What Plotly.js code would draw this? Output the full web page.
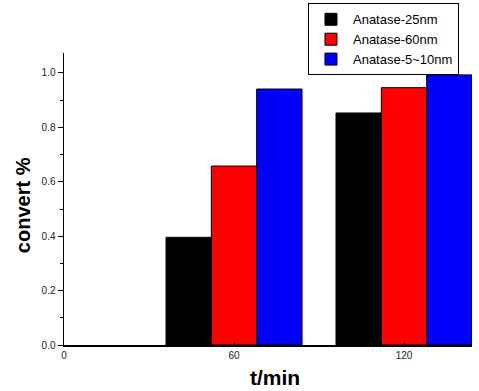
<!DOCTYPE html>
<html>
<head>
<meta charset="utf-8">
<script src="https://cdn.plot.ly/plotly-3.0.1.min.js"></script>
<style>html,body{margin:0;padding:0;background:#fff;}#chart{width:479px;height:391px;}</style>
</head>
<body>
<div id="chart"></div>
<script>
const times = [60, 120];
const seriesNames = ["Anatase-25nm", "Anatase-60nm", "Anatase-5~10nm"];
const anatase25 = [0.396, 0.853];
const anatase60 = [0.658, 0.946];
const anatase5to10 = [0.941, 0.993];
const colors = ["#000000", "#ff0000", "#0000ff"];
const xTicks = [0, 60, 120];
const yTicks = [0, 0.2, 0.4, 0.6, 0.8, 1.0];
const xTitle = "t/min";
const yTitle = "convert %";

const values = [anatase25, anatase60, anatase5to10];
const traces = values.map((v, i) => ({
  type: "bar",
  x: times,
  y: v,
  name: seriesNames[i],
  marker: {color: colors[i], line: {color: "#000", width: 1}},
  hoverinfo: "skip"
}));

const titleFont = {color: "#000", family: "Liberation Sans, Arial, sans-serif", weight: "bold"};

const layout = {
  width: 479, height: 391,
  margin: {l: 64, r: 7, t: 53, b: 46, pad: 0, autoexpand: false},
  paper_bgcolor: "#fff", plot_bgcolor: "#fff",
  barmode: "group", bargap: 0.2, bargroupgap: 0,
  font: {family: "Liberation Sans, Arial, sans-serif", color: "#222"},
  showlegend: true,
  legend: {
    x: 0.598, y: 1.17, xanchor: "left", yanchor: "top",
    bgcolor: "#fff", bordercolor: "#000", borderwidth: 1,
    font: {size: 13, color: "#000"},
    traceorder: "normal", itemwidth: 34
  },
  xaxis: {
    range: [0, 144], tickvals: xTicks, ticktext: xTicks.map(String),
    ticks: "inside", ticklen: 3, tickcolor: "#000",
    showline: true, linecolor: "#000", linewidth: 1.5,
    showgrid: false, zeroline: false, tickfont: {size: 10, color: "#222"},
    fixedrange: true, automargin: false
  },
  yaxis: {
    range: [0, 1.0735], tickvals: yTicks, ticktext: yTicks.map(v => v.toFixed(1)),
    ticks: "outside", ticklen: 5, tickcolor: "#000", tickwidth: 1,
    minor: {dtick: 0.1, ticks: "outside", ticklen: 3, tickcolor: "#000"},
    showline: true, linecolor: "#000", linewidth: 1.5,
    showgrid: false, zeroline: false, tickfont: {size: 10, color: "#222"},
    fixedrange: true, automargin: false
  },
  annotations: [
    {text: xTitle, xref: "paper", yref: "paper", x: 0.516, y: -0.112,
     xanchor: "center", yanchor: "middle", showarrow: false,
     font: Object.assign({size: 21}, titleFont)},
    {text: yTitle, xref: "paper", yref: "paper", x: -0.1005, y: 0.479,
     xanchor: "center", yanchor: "middle", showarrow: false, textangle: -90,
     font: Object.assign({size: 20}, titleFont)}
  ]
};

Plotly.newPlot("chart", traces, layout, {displayModeBar: false, staticPlot: true});
</script>
</body>
</html>
